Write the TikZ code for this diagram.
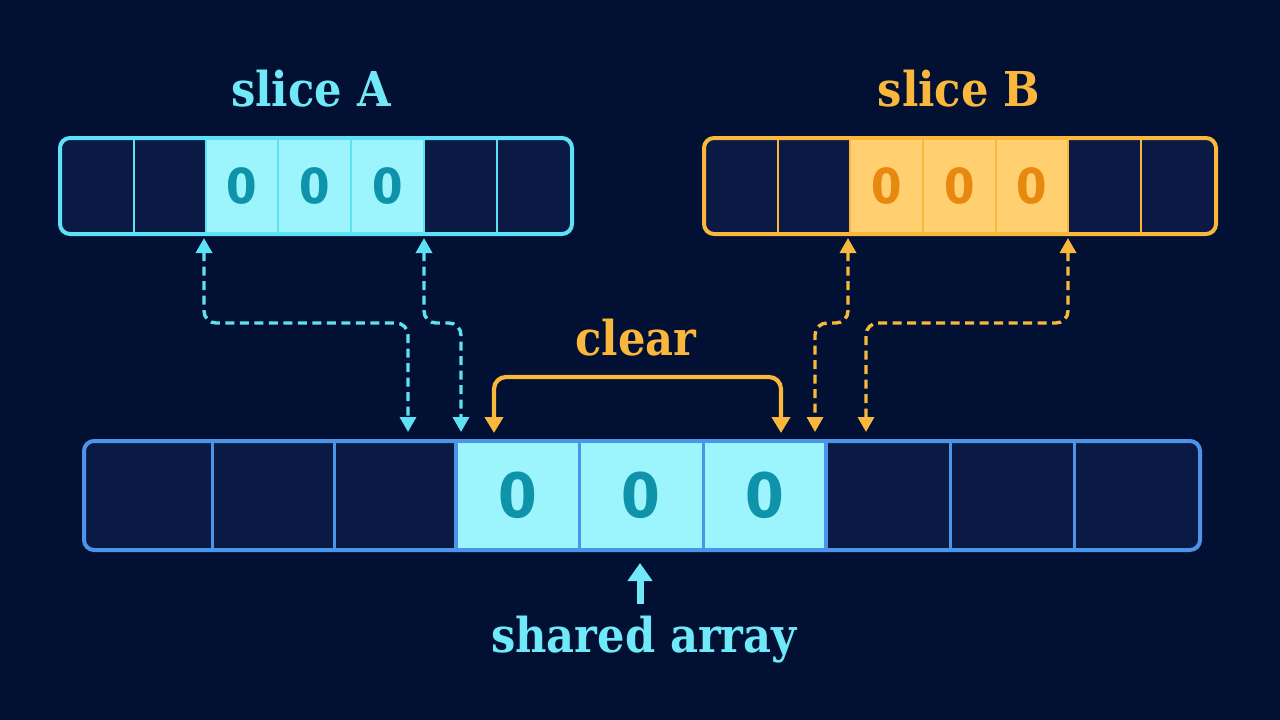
\documentclass[tikz,border=0pt]{standalone}
\usepackage{fontspec}
\setmainfont{DejaVu Serif Condensed}
\newfontfamily\digitfont{Fira Sans}
\usetikzlibrary{arrows.meta}
\definecolor{bgblue}{HTML}{021034}
\definecolor{cellblue}{HTML}{0B1A44}
\definecolor{cyanline}{HTML}{5CE1F5}
\definecolor{cyanfill}{HTML}{9CF5FC}
\definecolor{cyantext}{HTML}{6FE9F8}
\definecolor{amberline}{HTML}{F9B83C}
\definecolor{amberfill}{HTML}{FFCF70}
\definecolor{arrayline}{HTML}{4B94EA}
\definecolor{zerocyan}{HTML}{0E93AB}
\definecolor{zeroamber}{HTML}{E8890F}
\tikzset{
  barframe/.style={draw, fill=cellblue, rounded corners=10pt, line width=4pt, inner sep=0pt},
  barcell/.style={inner sep=0pt, minimum height=#1},
  title/.style={anchor=base, font=\bfseries\fontsize{48}{48}\selectfont},
  link/.style={line width=3.4pt, dash pattern=on 9pt off 5.5pt, rounded corners=12pt,
    {Triangle[width=16pt,length=15pt]}-{Triangle[width=16pt,length=15pt]}},
}
\begin{document}
\begin{tikzpicture}[x=1pt,y=-1pt]
\useasboundingbox[fill=bgblue] (0,0) rectangle (1280,720);
% slice A
\node[barframe, draw=cyanline, minimum width=512pt, minimum height=96pt] (frameA) at (316,186) {};
\foreach \i/\l/\r in {1/62/134, 2/134/206, 6/424/497, 7/497/570}
  \node[barcell=92pt, minimum width={(\r-\l)*1pt}] (A\i) at ({(\l+\r)/2},186) {};
\foreach \i/\l/\r in {3/206/278, 4/278/351, 5/351/424}
  \node[barcell=92pt, fill=cyanfill, text=zerocyan, minimum width={(\r-\l)*1pt},
    font=\digitfont\bfseries\fontsize{52}{52}\selectfont] (A\i) at ({(\l+\r)/2},186) {0};
\foreach \i in {1,...,6}
  \draw[cyanline, line width=2.4pt] (A\i.north east) -- (A\i.south east);
\node[title, text=cyantext] (titleA) at (311,106) {slice A};
% slice B
\node[barframe, draw=amberline, minimum width=512pt, minimum height=96pt] (frameB) at (960,186) {};
\foreach \i/\l/\r in {1/706/778, 2/778/850, 6/1068/1141, 7/1141/1214}
  \node[barcell=92pt, minimum width={(\r-\l)*1pt}] (B\i) at ({(\l+\r)/2},186) {};
\foreach \i/\l/\r in {3/850/923, 4/923/996, 5/996/1068}
  \node[barcell=92pt, fill=amberfill, text=zeroamber, minimum width={(\r-\l)*1pt},
    font=\digitfont\bfseries\fontsize{52}{52}\selectfont] (B\i) at ({(\l+\r)/2},186) {0};
\foreach \i in {1,...,6}
  \draw[amberline, line width=2.4pt] (B\i.north east) -- (B\i.south east);
\node[title, text=amberline] (titleB) at (959,106) {slice B};
% shared array
\node[barframe, draw=arrayline, minimum width=1116pt, minimum height=109pt] (frameS) at (642,495.5) {};
\foreach \i/\l/\r in {1/86/212, 2/212/334, 3/334/456, 7/826/950, 8/950/1074, 9/1074/1198}
  \node[barcell=105pt, minimum width={(\r-\l)*1pt}] (S\i) at ({(\l+\r)/2},495.5) {};
\foreach \i/\l/\r in {4/456/579, 5/579/703, 6/703/826}
  \node[barcell=105pt, fill=cyanfill, text=zerocyan, minimum width={(\r-\l)*1pt},
    font=\digitfont\bfseries\fontsize{66}{66}\selectfont] (S\i) at ({(\l+\r)/2},495.5) {0};
\foreach \i in {1,...,8}
  \draw[arrayline, line width=2.8pt] (S\i.north east) -- (S\i.south east);
\draw[arrayline, line width=3.8pt] (S3.north east) -- (S3.south east);
\draw[arrayline, line width=3.8pt] (S6.north east) -- (S6.south east);
% dashed links
\coordinate (a1top) at (204,238);
\coordinate (a1bot) at (408,432);
\coordinate (a2top) at (424,238);
\coordinate (a2bot) at (461,432);
\coordinate (b1top) at (848,238);
\coordinate (b1bot) at (815,432);
\coordinate (b2top) at (1068,238);
\coordinate (b2bot) at (866,432);
\coordinate (midA) at (440,323);
\coordinate (midB) at (840,323);
\draw[link, cyanline] (a1top) |- (midA -| a1bot) -- (a1bot);
\draw[link, cyanline] (a2top) |- (midA -| a2bot) -- (a2bot);
\draw[link, amberline] (b1top) |- (midB -| b1bot) -- (b1bot);
\draw[link, amberline] (b2top) |- (midB -| b2bot) -- (b2bot);
% clear
\coordinate (clearL) at (494,433);
\coordinate (clearR) at (781,433);
\coordinate (clearTop) at (640,377);
\draw[amberline, line width=4.2pt, rounded corners=12pt,
  {Triangle[width=18pt,length=16pt]}-{Triangle[width=18pt,length=16pt]}]
  (clearL) |- (clearTop) -| (clearR);
\node[title, text=amberline] (clearlabel) at (636,355) {clear};
% shared array label
\node[title, text=cyantext] (sharedlabel) at (644,652) {shared array};
\coordinate (upTip) at (640,563);
\coordinate (upEnd) at (640,604);
\draw[cyantext, line width=7pt, -{Triangle[width=24pt,length=18pt]}] (upEnd) -- (upTip);
\end{tikzpicture}
\end{document}
